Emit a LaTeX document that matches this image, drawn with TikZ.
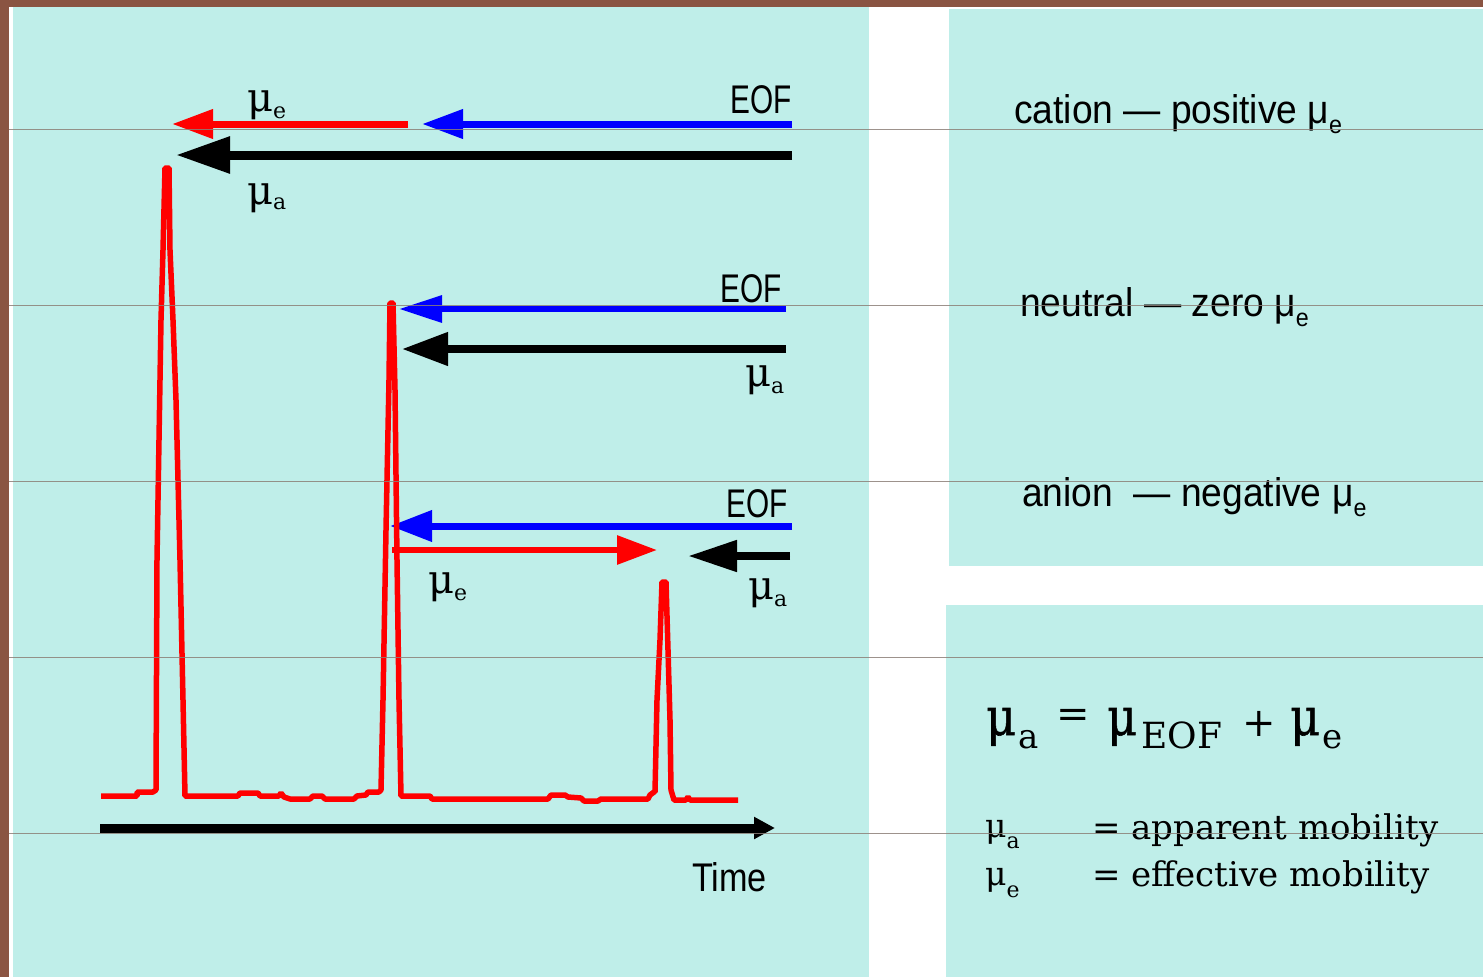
\documentclass[tikz,border=0pt]{standalone}
\usepackage{fontspec}
\setmainfont{DejaVu Serif}
\newfontfamily\cond[FakeStretch=0.93]{Liberation Sans}
\newfontfamily\muheavy[FakeBold=1.2]{DejaVu Serif}
\usetikzlibrary{arrows.meta}
\definecolor{panel}{RGB}{191,238,233}
\definecolor{frame}{RGB}{138,84,66}
\definecolor{scan}{RGB}{140,128,120}
\newcommand\mysub[3]{\raisebox{-#1}{\fontsize{#2}{#2}\selectfont #3}}
\begin{document}
\begin{tikzpicture}[x=1pt,y=-1pt,
  sanslab/.style={inner sep=0pt, font=\cond\fontsize{40}{48}\selectfont},
  eoflab/.style={sanslab, anchor=base east},
  serlab/.style={inner sep=0pt, anchor=base west},
  mulab/.style={serlab, font=\fontsize{40}{40}\selectfont},
  eqmu/.style={serlab, font=\muheavy\fontsize{52}{52}\selectfont},
  redarr/.style={draw=red, fill=red},
  bluearr/.style={draw=blue, fill=blue},
  blackarr/.style={draw=black, fill=black},
  trace/.style={draw=red, line width=5.5pt, line join=bevel},
  scanline/.style={draw=scan, line width=1pt, opacity=0.85}
]
\useasboundingbox (0,0) rectangle (1483,977);
% background and panels
\fill[frame] (0,0) rectangle (1483,977);
\fill[white] (9,7) rectangle (1483,977);
\fill[panel] (13,7) rectangle (869,977);
\fill[panel] (949,9) rectangle (1483,566);
\fill[panel] (946,605) rectangle (1483,977);

% ---- top group (cation)
\coordinate (re1s) at (408,124); \coordinate (re1e) at (172,124);
\coordinate (bl1s) at (792,124); \coordinate (bl1e) at (422,124);
\coordinate (bk1s) at (792,155); \coordinate (bk1e) at (176,155);
\draw[redarr, line width=7pt, -{Triangle[length=41pt,width=28pt]}] (re1s) -- (re1e);
\draw[bluearr, line width=7pt, -{Triangle[length=41pt,width=28pt]}] (bl1s) -- (bl1e);
\draw[blackarr, line width=9pt, -{Triangle[length=54pt,width=35pt]}] (bk1s) -- (bk1e);
\node[eoflab] (eof1) at (792,113) {\scalebox{0.8}[1]{EOF}};
\node[mulab] (mue1) at (247,111) {μ\mysub{7pt}{22}{e}};
\node[mulab] (mua1) at (247,204) {μ\mysub{5pt}{22}{a}};

% ---- middle group (neutral)
\coordinate (bl2s) at (786,309); \coordinate (bl2e) at (399,309);
\coordinate (bk2s) at (786,349); \coordinate (bk2e) at (402,349);
\draw[bluearr, line width=6.5pt, -{Triangle[length=43pt,width=26pt]}] (bl2s) -- (bl2e);
\draw[blackarr, line width=7.5pt, -{Triangle[length=46pt,width=32pt]}] (bk2s) -- (bk2e);
\node[eoflab] (eof2) at (782,302) {\scalebox{0.8}[1]{EOF}};
\node[mulab] (mua2) at (745,386) {μ\mysub{7pt}{22}{a}};

% ---- bottom group (anion)
\coordinate (bl3s) at (792,526); \coordinate (bl3e) at (390,526);
\coordinate (re3s) at (392,550); \coordinate (re3e) at (657,550);
\coordinate (bk3s) at (790,556); \coordinate (bk3e) at (688,556);
\draw[bluearr, line width=7pt, -{Triangle[length=42pt,width=30pt]}] (bl3s) -- (bl3e);
\draw[redarr, line width=6pt, -{Triangle[length=40pt,width=28pt]}] (re3s) -- (re3e);
\draw[blackarr, line width=8pt, -{Triangle[length=49pt,width=30pt]}] (bk3s) -- (bk3e);
\node[eoflab] (eof3) at (788,517) {\scalebox{0.8}[1]{EOF}};
\node[mulab] (mue3) at (428,593) {μ\mysub{7pt}{22}{e}};
\node[mulab] (mua3) at (748,599) {μ\mysub{7pt}{22}{a}};

% ---- chromatogram trace
\draw[trace] (101,796) -- (137,796) -- (137,792) -- (153,792)
  -- (156,790) -- (157,560) -- (161,320) -- (163,250) -- (165,168) -- (169,168)
  -- (170,250) -- (173,320) -- (176,400) -- (180,560) -- (183,700) -- (185,796)
  -- (238,796) -- (240,793) -- (258,793) -- (260,796) -- (279,796) -- (281,793)
  -- (284,797) -- (290,799) -- (310,799) -- (313,796) -- (322,796) -- (325,799)
  -- (354,799) -- (357,796) -- (366,795) -- (368,792) -- (379,792)
  -- (381,790) -- (383,700) -- (386,530) -- (389,380) -- (390,303) -- (393,303)
  -- (395,390) -- (397,560) -- (399,700) -- (401,796)
  -- (430,796) -- (432,799) -- (548,799) -- (551,795) -- (565,795) -- (568,797)
  -- (581,798) -- (584,801) -- (598,801) -- (601,799) -- (648,799) -- (650,795)
  -- (654,792) -- (655,792) -- (657,700) -- (660,640) -- (662,582) -- (666,582)
  -- (668,650) -- (670,720) -- (671,790) -- (674,800) -- (686,800) -- (688,797)
  -- (690,800) -- (738,800);

% ---- time axis
\coordinate (ax0) at (100,828); \coordinate (ax1) at (775,828);
\draw[blackarr, line width=9pt, -{Triangle[length=21pt,width=21pt]}] (ax0) -- (ax1);
\node[sanslab, anchor=base west] (time) at (692,891) {\scalebox{0.92}[1]{Time}};

% ---- right top panel
\node[sanslab, anchor=base west] (cation) at (1014,123) {cation — positive μ\mysub{10pt}{25}{e}};
\node[sanslab, anchor=base west] (neutral) at (1020,316) {neutral — zero μ\mysub{10pt}{25}{e}};
\node[sanslab, anchor=base west] (anion) at (1022,506) {anion\hspace{10pt} — negative μ\mysub{10pt}{25}{e}};

% ---- right bottom panel: equation
\node[eqmu] (eqmu1) at (986,735) {\scalebox{0.88}[1]{μ}};
\node[serlab, font=\fontsize{34}{34}\selectfont] (eqa) at (1018,748) {a};
\node[inner sep=0pt, font=\fontsize{40}{40}\selectfont] (eqeq) at (1073,718) {=};
\node[eqmu] (eqmu2) at (1107,735) {\scalebox{0.88}[1]{μ}};
\node[serlab, font=\fontsize{36}{36}\selectfont] (eqeof) at (1141,748) {EOF};
\node[inner sep=0pt, font=\fontsize{40}{40}\selectfont] (eqplus) at (1259,724) {+};
\node[eqmu] (eqmu3) at (1290,735) {\scalebox{0.88}[1]{μ}};
\node[serlab, font=\fontsize{34}{34}\selectfont] (eqe) at (1322,748) {e};

% definitions
\node[serlab, font=\fontsize{33}{33}\selectfont] (dmua) at (985,837) {μ\mysub{11pt}{22}{a}};
\node[serlab, font=\fontsize{34}{34}\selectfont] (dapp) at (1092,839) {= apparent mobility};
\node[serlab, font=\fontsize{33}{33}\selectfont] (dmue) at (985,885) {μ\mysub{12pt}{22}{e}};
\node[serlab, font=\fontsize{34}{34}\selectfont] (deff) at (1092,886) {= effective mobility};

% ---- thin scan lines across the picture
\foreach \yy/\nm in {129/sa,305/sb,481/sc,657/sd,833/se} {
  \coordinate (\nm0) at (9,\yy); \coordinate (\nm1) at (1483,\yy);
  \draw[scanline] (\nm0) -- (\nm1);
}
\end{tikzpicture}
\end{document}
